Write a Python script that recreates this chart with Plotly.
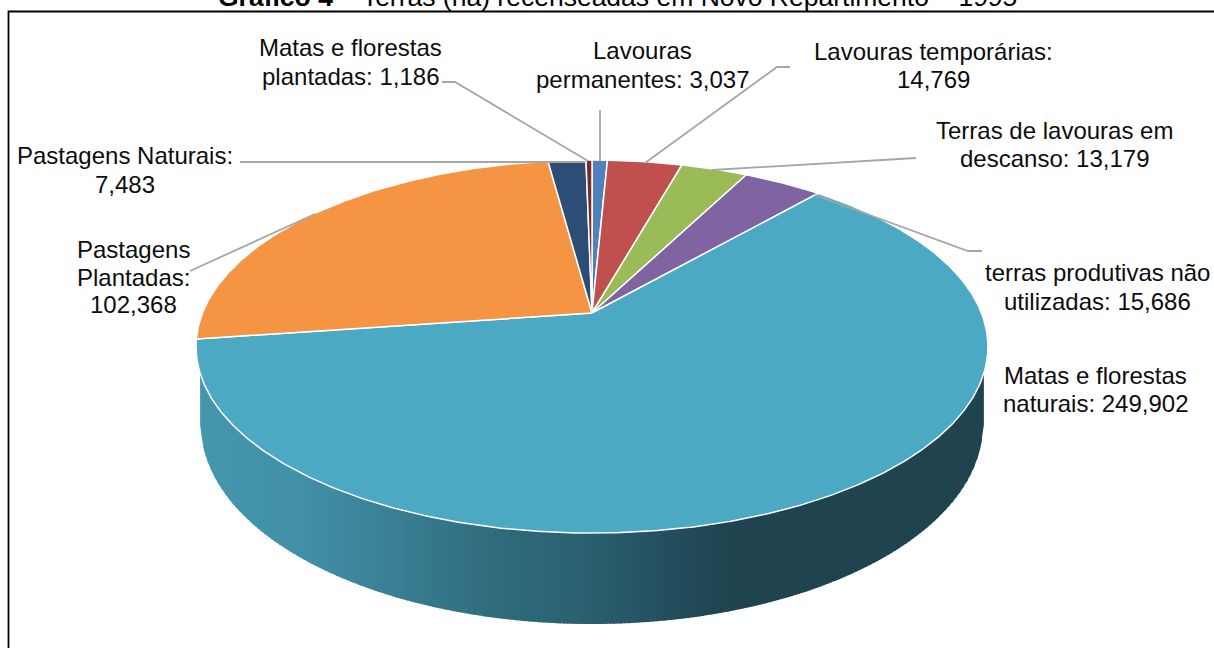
import numpy as np
import plotly.graph_objects as go

# ---- data -----------------------------------------------------------------
categories = ["Lavouras permanentes", "Lavouras temporárias", "Terras de lavouras em descanso",
              "terras produtivas não utilizadas", "Matas e florestas naturais",
              "Pastagens Plantadas", "Pastagens Naturais", "Matas e florestas plantadas"]
values = [3037, 14769, 13179, 15686, 249902, 102368, 7483, 1186]
colors = ["#4F81BD", "#C0504D", "#9BBB59", "#8064A2", "#4BA9C4", "#F59544", "#2C4D75", "#772C2A"]
label_formats = ["Lavouras<br>permanentes: {}", "Lavouras temporárias:<br>{}",
                 "Terras de lavouras em<br>descanso: {}", "terras produtivas não<br>utilizadas: {}",
                 "Matas e florestas<br>naturais: {}", "Pastagens<br>Plantadas:<br>{}",
                 "Pastagens Naturais:<br>{}", "Matas e florestas<br>plantadas: {}"]
label_centres = [(642, 64.5), (933, 65.5), (1054, 144), (1097, 286.5), (1095, 389.5), (133, 277), (125, 169.5), (350, 62)]
label_gaps = [29, 28, 28, 29, 28, 27.5, 29, 29]
leader_lines = [
    [(600, 161), (600, 110)],
    [(645, 163), (777, 67), (790, 67)],
    [(712, 170), (905, 158), (916, 158)],
    [(815, 195), (968, 251), (982, 251)],
    [(190, 271), (315, 214)],
    [(240, 162), (585, 162)],
    [(442, 82), (455, 82), (588, 161)],
]
title_bold = "Gráfico 4"
title_rest = " – Terras (ha) recenseadas em Novo Repartimento – 1995"

# ---- projection of the tilted disc -----------------------------------------
CX, CY, A, B, K = 592.0, 313.0, 389.5, 180.5, 0.18


def project(phi):
    w = 1 + K * np.cos(phi)
    return CX + A * np.sin(phi) / w, CY - B * np.cos(phi) / w


fig = go.Figure()

# ---- side wall: vertical strips with a horizontal colour gradient ----------
phi = np.linspace(np.pi / 2, 3 * np.pi / 2, 1500)
rx, ry = project(phi)
order = np.argsort(rx)
rx, ry = rx[order], ry[order]
mask = ry >= 373
xl, xr = rx[mask].min(), rx[mask].max()
LOW_CY, LOW_A, LOW_B = 425.0, 391.0, 199.0
grad_x = [198, 300, 400, 500, 592, 680, 730, 990]
grad_c = [(0x45, 0x96, 0xAE), (0x41, 0x90, 0xA7), (0x39, 0x7E, 0x93), (0x2F, 0x6B, 0x7C),
          (0x2A, 0x5F, 0x6E), (0x23, 0x4C, 0x5C), (0x1F, 0x44, 0x50), (0x1F, 0x44, 0x50)]
edges = np.linspace(xl, xr, 221)
for x0, x1 in zip(edges[:-1], edges[1:]):
    # each strip overlaps the next one, so no seam shows between them
    xs = np.linspace(x0, min(x1 + 1.5, xr), 4)
    top = np.interp(xs, rx, ry)
    low = LOW_CY + LOW_B * np.sqrt(np.clip(1 - ((xs - CX) / LOW_A) ** 2, 0, 1))
    xm = (x0 + x1) / 2
    rgb = [int(round(np.interp(xm, grad_x, [c[i] for c in grad_c]))) for i in range(3)]
    col = f"rgb({rgb[0]},{rgb[1]},{rgb[2]})"
    fig.add_trace(go.Scatter(x=np.r_[xs, xs[::-1]], y=np.r_[top, low[::-1]], mode="lines", fill="toself",
                             fillcolor=col, line=dict(width=0),
                             hoverinfo="skip", showlegend=False))

# ---- top face: one wedge per value -----------------------------------------
fractions = np.cumsum([0] + values) / sum(values)
for cat, val, col, f0, f1 in zip(categories, values, colors, fractions[:-1], fractions[1:]):
    th = np.linspace(f0, f1, max(4, int((f1 - f0) * 800))) * 2 * np.pi
    x, y = project(th)
    fig.add_trace(go.Scatter(x=np.r_[CX, x, CX], y=np.r_[CY, y, CY], mode="lines", fill="toself",
                             fillcolor=col, line=dict(color="white", width=1.5),
                             name=cat, hovertemplate=f"{cat}: {val:,}<extra></extra>", showlegend=False))

# ---- leader lines ----------------------------------------------------------
for pts in leader_lines:
    fig.add_trace(go.Scatter(x=[p[0] for p in pts], y=[p[1] for p in pts], mode="lines",
                             line=dict(color="#A6A6A6", width=1.8), hoverinfo="skip", showlegend=False))

FONT = "Liberation Sans, Arial, sans-serif"
annotations = []
for fmt, val, (lx, ly), gap in zip(label_formats, values, label_centres, label_gaps):
    lines = fmt.format(f"{val:,}").split("<br>")
    for i, line in enumerate(lines):
        annotations.append(dict(x=lx, y=ly + (i - (len(lines) - 1) / 2) * gap, xref="x", yref="y",
                                text=line, showarrow=False, xanchor="center", yanchor="middle",
                                font=dict(family=FONT, size=24, color="#0D0D0D")))
annotations.append(dict(x=617.5, y=1, xref="x", yref="paper", yshift=2.6, text=f"<b>{title_bold}</b>{title_rest}",
                        showarrow=False, xanchor="center", yanchor="middle",
                        font=dict(family=FONT, size=26.5, color="black")))

fig.update_layout(
    width=1214, height=648, margin=dict(l=0, r=0, t=0, b=0),
    paper_bgcolor="white", plot_bgcolor="white",
    xaxis=dict(range=[0, 1214], visible=False, fixedrange=True),
    yaxis=dict(range=[648, 0], visible=False, fixedrange=True),
    annotations=annotations,
    shapes=[dict(type="rect", xref="x", yref="y", x0=8.5, y0=11.5, x1=1230, y1=660,
                 line=dict(color="black", width=1.8), layer="above")],
)
fig.write_html("out.html", config={"displayModeBar": False},
               post_script="document.body.style.margin='0';document.body.style.overflow='hidden';")
